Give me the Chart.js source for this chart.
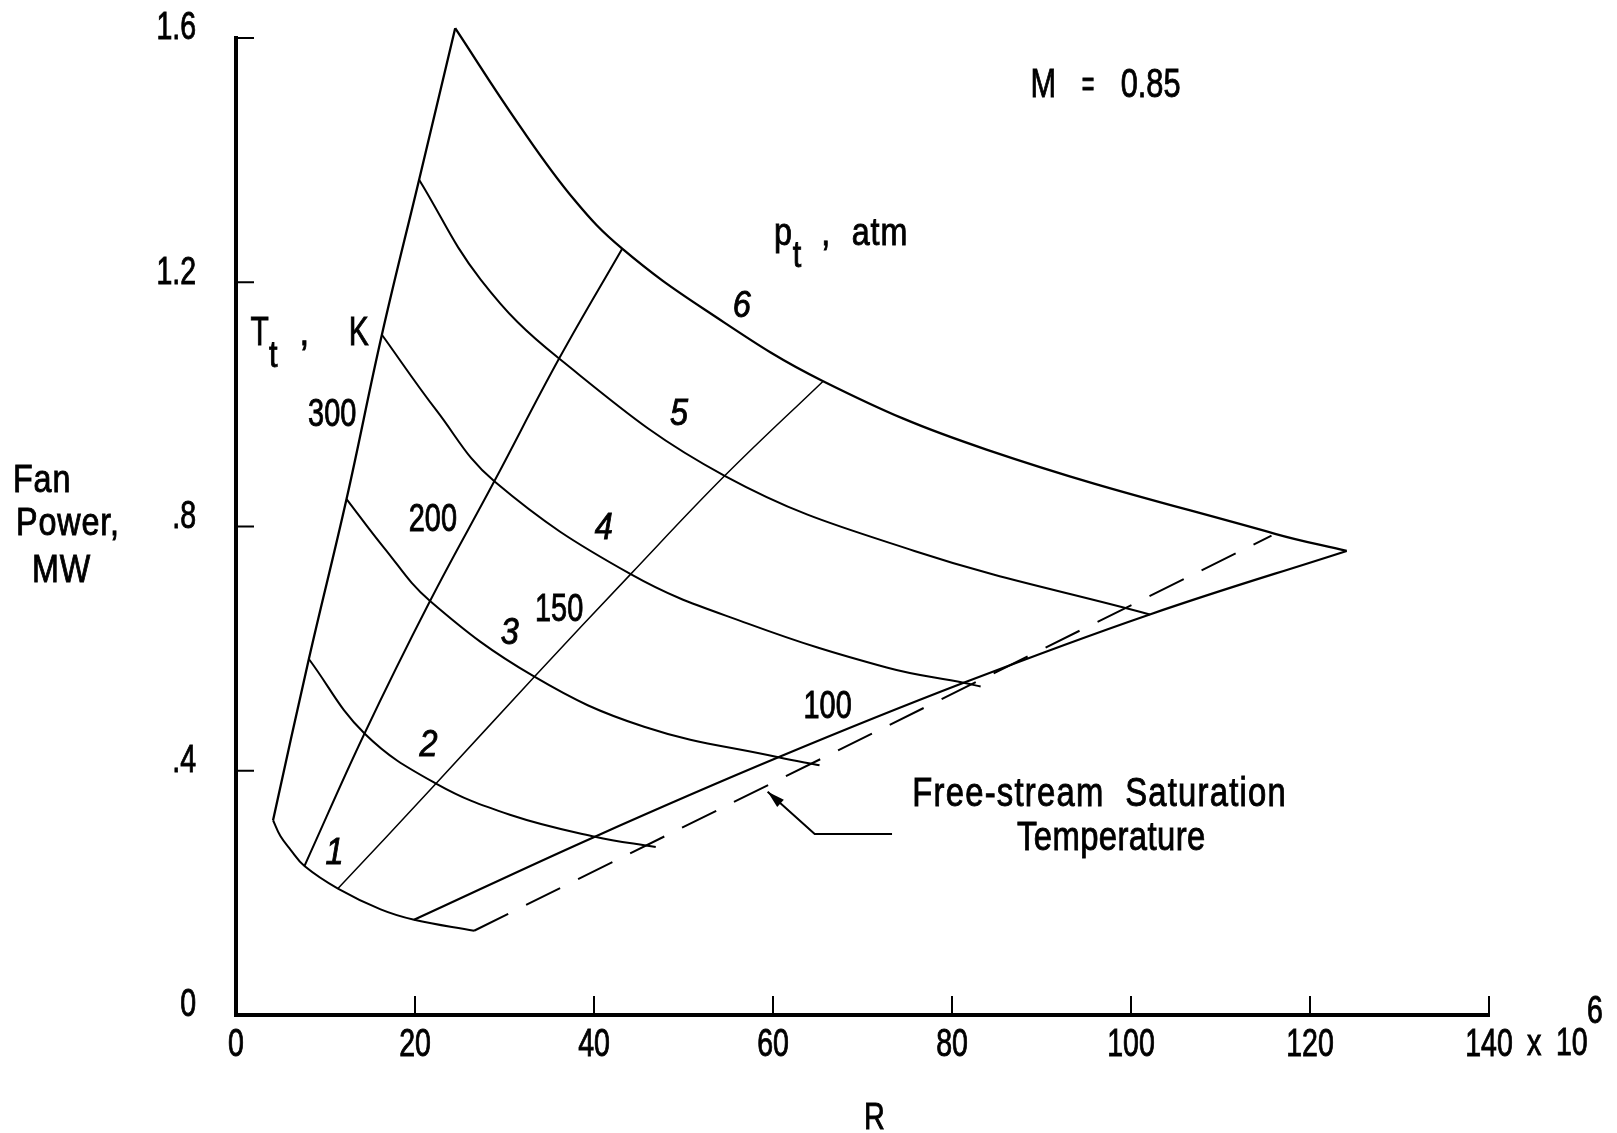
<!DOCTYPE html>
<html>
<head>
<meta charset="utf-8">
<title>Fan Power vs R</title>
<script src="https://cdn.jsdelivr.net/npm/chart.js@4.4.1/dist/chart.umd.min.js"></script>
<style>
  html, body { margin: 0; padding: 0; background: #fff; }
  #wrap { width: 1617px; height: 1133px; }
</style>
</head>
<body>
<div id="wrap"><canvas id="fanChart" width="1617" height="1133"></canvas></div>
<script>
// axis ticks
const R_TICKS = [0, 20, 40, 60, 80, 100, 120, 140];
const X_TICK_LABELS = ['0', '20', '40', '60', '80', '100', '120', '140'];
const POWER_TICKS = [0, 0.4, 0.8, 1.2, 1.6];
const Y_TICK_LABELS = ['0', '.4', '.8', '1.2', '1.6'];

// constant total pressure lines, p_t in atm (R in millions, fan power in MW)
const P_LEVELS = ['1', '2', '3', '4', '5', '6'];
const p1R = [4.14, 4.96, 6.08, 7.65, 11.39, 16.16, 19.9, 26.6];
const p1Power = [0.319, 0.293, 0.271, 0.244, 0.207, 0.173, 0.156, 0.138];
const p2R = [8.14, 14.36, 22.35, 30.6, 40.1, 46.9];
const p2Power = [0.583, 0.461, 0.379, 0.328, 0.292, 0.275];
const p3R = [12.35, 16.5, 21.68, 33.34, 45.6, 60.6, 65.2];
const p3Power = [0.845, 0.766, 0.678, 0.554, 0.472, 0.422, 0.409];
const p4R = [16.3, 22.4, 28.86, 44.1, 57.2, 72.7, 81.3, 83.2];
const p4Power = [1.114, 0.990, 0.874, 0.722, 0.641, 0.569, 0.544, 0.538];
const p5R = [20.46, 27.36, 36.1, 54.6, 75.8, 102.1];
const p5Power = [1.368, 1.204, 1.075, 0.883, 0.760, 0.656];
const p6R = [24.49, 31.47, 37.8, 43.15, 52.4, 65.6, 83.85, 116.1, 124.1];
const p6Power = [1.616, 1.461, 1.335, 1.255, 1.155, 1.038, 0.926, 0.788, 0.760];

// constant total temperature lines, T_t in K
const T_LEVELS = ['300', '200', '150', '100'];
const t300R = [4.14, 8.14, 12.35, 16.3, 20.46, 24.49];
const t300Power = [0.319, 0.583, 0.845, 1.114, 1.368, 1.616];
const t200R = [7.65, 14.36, 21.68, 28.86, 36.1, 43.15];
const t200Power = [0.244, 0.461, 0.678, 0.874, 1.075, 1.255];
const t150R = [11.39, 22.35, 33.34, 44.1, 54.6, 65.6];
const t150Power = [0.207, 0.379, 0.554, 0.722, 0.883, 1.038];
const t100R = [19.9, 40.1, 60.6, 81.3, 102.1, 124.1];
const t100Power = [0.156, 0.292, 0.422, 0.544, 0.656, 0.760];

// free-stream saturation temperature
const satR = [26.6, 115.7];
const satPower = [0.138, 0.785];

// where the curve labels sit (data coordinates)
const P_LABEL_R = [11.0, 21.5, 30.6, 41.1, 49.5, 56.5];
const P_LABEL_POWER = [0.264, 0.441, 0.624, 0.796, 0.983, 1.159];
const T_LABEL_R = [10.75, 22.0, 36.1, 66.1];
const T_LABEL_POWER = [0.982, 0.809, 0.662, 0.503];
const ARROW_R = [73.3, 64.66, 59.4];
const ARROW_POWER = [0.2966, 0.2966, 0.3655];

const FONT = "'Liberation Sans', Arimo, Arial, sans-serif";

const lineSet = (label, xs, ys, width, dash) => ({
    label,
    data: xs.map((x, i) => ({ x, y: ys[i] })),
    borderColor: '#000',
    borderWidth: width,
    borderDash: dash || [],
    pointRadius: 0,
    fill: false,
    tension: 0.4,
    clip: false
});

// narrow, slightly heavy lettering: squeeze the glyphs and give them a thin outline
function drawText(ctx, str, px, py, size, opts = {}) {
    ctx.save();
    ctx.font = (opts.italic ? 'italic ' : '') + size + 'px ' + FONT;
    ctx.textAlign = opts.align || 'center';
    ctx.textBaseline = opts.baseline || 'middle';
    if ('letterSpacing' in ctx) ctx.letterSpacing = (opts.spacing || 0) + 'px';
    ctx.fillStyle = '#000';
    ctx.strokeStyle = '#000';
    ctx.lineWidth = 0.9;
    ctx.translate(px, py);
    ctx.scale(opts.sx || 0.78, 1);
    ctx.fillText(str, 0, 0);
    ctx.strokeText(str, 0, 0);
    ctx.restore();
}

const carpetLabels = {
    id: 'carpetLabels',
    afterDatasetsDraw(chart) {
        const { ctx, chartArea, scales: { x, y } } = chart;
        const px = v => x.getPixelForValue(v);
        const py = v => y.getPixelForValue(v);

        // inward tick marks
        ctx.save();
        ctx.strokeStyle = '#000';
        ctx.lineWidth = 2;
        ctx.beginPath();
        y.ticks.slice(1).forEach(t => {
            ctx.moveTo(chartArea.left, py(t.value));
            ctx.lineTo(chartArea.left + 18, py(t.value));
        });
        x.ticks.slice(1).forEach(t => {
            ctx.moveTo(px(t.value), chartArea.bottom);
            ctx.lineTo(px(t.value), chartArea.bottom - 19);
        });
        ctx.stroke();

        // pointer to the saturation line
        ctx.beginPath();
        ARROW_R.forEach((r, i) => {
            if (i === 0) ctx.moveTo(px(r), py(ARROW_POWER[i]));
            else ctx.lineTo(px(r), py(ARROW_POWER[i]));
        });
        ctx.stroke();
        const tx = px(ARROW_R[2]), ty = py(ARROW_POWER[2]);
        const ang = Math.atan2(ty - py(ARROW_POWER[1]), tx - px(ARROW_R[1]));
        ctx.beginPath();
        ctx.moveTo(tx, ty);
        ctx.lineTo(tx - 18 * Math.cos(ang - 0.28), ty - 18 * Math.sin(ang - 0.28));
        ctx.lineTo(tx - 18 * Math.cos(ang + 0.28), ty - 18 * Math.sin(ang + 0.28));
        ctx.closePath();
        ctx.fillStyle = '#000';
        ctx.fill();
        ctx.restore();

        // tick labels
        x.ticks.forEach(t => {
            const lab = X_TICK_LABELS[R_TICKS.indexOf(t.value)];
            drawText(ctx, lab, px(t.value), chartArea.bottom + 31, 38, { sx: 0.75 });
        });
        y.ticks.forEach(t => {
            const lab = Y_TICK_LABELS[POWER_TICKS.indexOf(t.value)];
            drawText(ctx, lab, chartArea.left - 40, py(t.value) - 9, 38, { sx: 0.75, align: 'right' });
        });

        // multiplier on the last R tick
        const x140 = px(140);
        drawText(ctx, 'x', x140 + 38, chartArea.bottom + 40, 36, { align: 'left', baseline: 'alphabetic', sx: 0.8 });
        drawText(ctx, '10', x140 + 67, chartArea.bottom + 40, 38, { align: 'left', baseline: 'alphabetic', sx: 0.75 });
        drawText(ctx, '6', x140 + 98, chartArea.bottom + 8, 38, { align: 'left', baseline: 'alphabetic', sx: 0.75 });

        // curve labels
        P_LEVELS.forEach((lab, i) => drawText(ctx, lab, px(P_LABEL_R[i]), py(P_LABEL_POWER[i]), 36, { italic: true, sx: 0.9 }));
        T_LEVELS.forEach((lab, i) => drawText(ctx, lab, px(T_LABEL_R[i]), py(T_LABEL_POWER[i]), 38, { sx: 0.76 }));

        // family headings
        drawText(ctx, 'p', px(60.1), py(1.2614), 38, { align: 'left', baseline: 'alphabetic', sx: 0.85 });
        drawText(ctx, 't', px(62.2), py(1.2255), 36, { align: 'left', baseline: 'alphabetic', sx: 0.85 });
        drawText(ctx, ',', px(65.4), py(1.2614), 38, { align: 'left', baseline: 'alphabetic', sx: 0.85 });
        drawText(ctx, 'atm', px(68.8), py(1.2614), 38, { align: 'left', baseline: 'alphabetic', sx: 0.85, spacing: 1 });

        drawText(ctx, 'T', px(1.63), py(1.098), 41, { align: 'left', baseline: 'alphabetic', sx: 0.73 });
        drawText(ctx, 't', px(3.7), py(1.062), 36, { align: 'left', baseline: 'alphabetic', sx: 0.85 });
        drawText(ctx, ',', px(7.1), py(1.098), 41, { align: 'left', baseline: 'alphabetic', sx: 0.85 });
        drawText(ctx, 'K', px(12.6), py(1.098), 41, { align: 'left', baseline: 'alphabetic', sx: 0.73 });

        drawText(ctx, 'M', px(88.77), py(1.522), 41, { align: 'left', sx: 0.75 });
        drawText(ctx, '=', px(94.5), py(1.522), 36, { align: 'left', sx: 0.6 });
        drawText(ctx, '0.85', px(98.85), py(1.522), 41, { align: 'left', sx: 0.75 });

        drawText(ctx, 'Free-stream  Saturation', px(96.5), py(0.361), 40, { sx: 0.82, spacing: 1.5 });
        drawText(ctx, 'Temperature', px(97.8), py(0.288), 40, { sx: 0.82, spacing: 0.5 });

        // axis titles
        const yMid = py(0.8);
        drawText(ctx, 'Fan', chartArea.left - 223, yMid - 35, 38, { align: 'left', baseline: 'alphabetic', sx: 0.85, spacing: 1 });
        drawText(ctx, 'Power,', chartArea.left - 220, yMid + 8, 38, { align: 'left', baseline: 'alphabetic', sx: 0.85, spacing: 1 });
        drawText(ctx, 'MW', chartArea.left - 204, yMid + 55, 38, { align: 'left', baseline: 'alphabetic', sx: 0.85, spacing: 1 });
        drawText(ctx, 'R', (chartArea.left + chartArea.right) / 2 + 12, chartArea.bottom + 114, 36, { baseline: 'alphabetic', sx: 0.8 });
    }
};

document.addEventListener('DOMContentLoaded', () => {
    const ctx = document.getElementById('fanChart').getContext('2d');

    new Chart(ctx, {
        type: 'line',
        data: {
            datasets: [
                lineSet('p 1', p1R, p1Power, 2),
                lineSet('p 2', p2R, p2Power, 2),
                lineSet('p 3', p3R, p3Power, 2),
                lineSet('p 4', p4R, p4Power, 2),
                lineSet('p 5', p5R, p5Power, 2),
                lineSet('p 6', p6R, p6Power, 2.3),
                lineSet('T 300', t300R, t300Power, 2.3),
                lineSet('T 200', t200R, t200Power, 2),
                lineSet('T 150', t150R, t150Power, 1.5),
                lineSet('T 100', t100R, t100Power, 2.2),
                lineSet('Saturation', satR, satPower, 2, [38, 20])
            ]
        },
        options: {
            responsive: false,
            animation: false,
            layout: { padding: { top: 38, right: 128, left: 0, bottom: 0 } },
            plugins: {
                legend: { display: false },
                tooltip: { enabled: false }
            },
            scales: {
                x: {
                    type: 'linear',
                    min: 0,
                    max: 140,
                    afterBuildTicks: s => { s.ticks = R_TICKS.map(v => ({ value: v })); },
                    afterFit: s => { s.height = 118; },
                    grid: { display: false, drawTicks: false },
                    border: { display: true, color: '#000', width: 4 },
                    ticks: { display: false }
                },
                y: {
                    type: 'linear',
                    min: 0,
                    max: 1.6,
                    afterBuildTicks: s => { s.ticks = POWER_TICKS.map(v => ({ value: v })); },
                    afterFit: s => { s.width = 236; },
                    grid: { display: false, drawTicks: false },
                    border: { display: true, color: '#000', width: 4 },
                    ticks: { display: false }
                }
            }
        },
        plugins: [carpetLabels]
    });
});
</script>
</body>
</html>
